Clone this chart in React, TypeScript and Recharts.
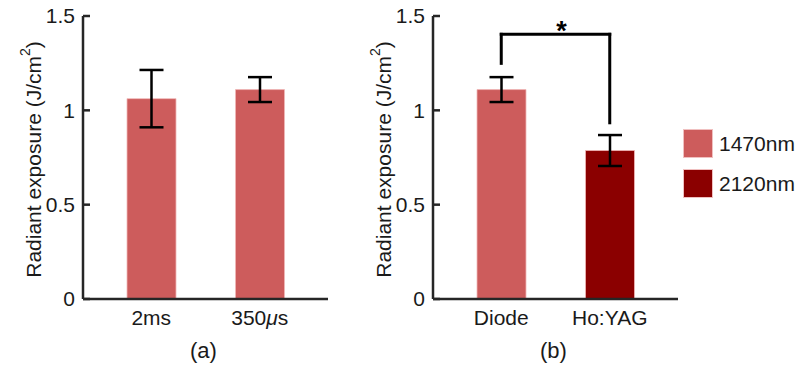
import React from 'react';
import { BarChart, Bar, XAxis, YAxis, ErrorBar, Cell, ReferenceLine, Label } from 'recharts';

// Panel (a)
const panelACategories = ['2ms', '350μs'];
const panelAValues = [1.062, 1.11];
const panelAErrors = [0.152, 0.066];

// Panel (b)
const panelBCategories = ['Diode', 'Ho:YAG'];
const panelBValues = [1.11, 0.787];
const panelBErrors = [0.066, 0.082];

// Significance bracket (panel b)
const bracketTop = 1.403;
const bracketLeftBottom = 1.249;
const bracketRightBottom = 0.934;
const significanceMark = '*';

const yTicks = [0, 0.5, 1, 1.5];
const yDomain: [number, number] = [0, 1.5];

const legendNames = ['1470nm', '2120nm'];
const COLOR_1470 = '#CD5C5C';
const COLOR_2120 = '#8B0000';
const panelAColors = [COLOR_1470, COLOR_1470];
const panelBColors = [COLOR_1470, COLOR_2120];
const legendColors = [COLOR_1470, COLOR_2120];

const FONT = '"Liberation Sans", Arial, Helvetica, sans-serif';
const AXIS_COLOR = '#262626';
const TEXT_COLOR = '#1a1a1a';

const build = (cats: string[], vals: number[], errs: number[]) =>
  cats.map((c, i) => ({ name: c, value: vals[i], err: errs[i] }));

const dataA = build(panelACategories, panelAValues, panelAErrors);
const dataB = build(panelBCategories, panelBValues, panelBErrors);

const XTick = (props: any) => {
  const { x, y, payload } = props;
  const v: string = String(payload.value);
  const idx = v.indexOf('μ');
  return (
    <text x={x} y={y} dy="0.71em" textAnchor="middle" fontSize={21} fontFamily={FONT} fill={TEXT_COLOR}>
      {idx >= 0 ? (
        <>
          {v.slice(0, idx)}
          <tspan fontStyle="italic">μ</tspan>
          {v.slice(idx + 1)}
        </>
      ) : (
        v
      )}
    </text>
  );
};

const YTick = (props: any) => {
  const { x, y, payload } = props;
  return (
    <text x={x} y={y} dy="0.355em" textAnchor="end" fontSize={21} fontFamily={FONT} fill={TEXT_COLOR}>
      {String(payload.value)}
    </text>
  );
};

const YLabel = (props: any) => {
  const vb = props.viewBox || { x: 0, y: 0, width: 0, height: 0 };
  const cx = vb.x + 33;
  const cy = vb.y + vb.height / 2 + 2;
  return (
    <text
      x={cx}
      y={cy}
      transform={`rotate(-90 ${cx} ${cy})`}
      textAnchor="middle"
      dominantBaseline="central"
      fontSize={21}
      fontFamily={FONT}
      fill={TEXT_COLOR}
    >
      Radiant exposure (J/cm<tspan dy={-8} fontSize={14}>2</tspan>
      <tspan dy={8}>)</tspan>
    </text>
  );
};

const Caption = (props: any) => {
  const vb = props.viewBox || { x: 0, y: 0, width: 0, height: 0 };
  return (
    <text x={vb.x + vb.width / 2 - 2} y={vb.y + vb.height - 10} textAnchor="middle" fontSize={22} fontFamily={FONT} fill={TEXT_COLOR}>
      {props.value}
    </text>
  );
};

const StarLabel = (props: any) => {
  const vb = props.viewBox || { x: 0, y: 0, width: 0, height: 0 };
  const cx = vb.x + vb.width / 2 + 6;
  return (
    <text x={cx} y={vb.y + 5.5} textAnchor="middle" fontSize={27} fontWeight="bold" fontFamily={FONT} fill="#000">
      {significanceMark}
    </text>
  );
};

const Panel = ({ data, colors, caption, bracket }: { data: any[]; colors: string[]; caption: string; bracket?: boolean }) => (
  <BarChart width={340} height={368} data={data} margin={{ top: 16, right: 12, bottom: 0, left: 0 }}>
    <XAxis
      dataKey="name"
      padding={{ left: 14, right: 14 }}
      axisLine={{ stroke: AXIS_COLOR, strokeWidth: 2.5 }}
      tickLine={false}
      tickSize={0}
      tickMargin={11}
      height={69}
      tick={<XTick />}
      interval={0}
    >
      <Label value={caption} content={<Caption />} />
    </XAxis>
    <YAxis
      domain={yDomain}
      ticks={yTicks}
      width={83}
      axisLine={{ stroke: AXIS_COLOR, strokeWidth: 2.5 }}
      tickLine={{ stroke: AXIS_COLOR, strokeWidth: 2.5 }}
      tickSize={-7}
      tickMargin={15}
      tick={<YTick />}
      allowDataOverflow
    >
      <Label content={<YLabel />} />
    </YAxis>
    <Bar dataKey="value" barSize={49} isAnimationActive={false}>
      {data.map((d, i) => (
        <Cell key={d.name} fill={colors[i]} stroke="#f0b8b8" strokeWidth={0.8} />
      ))}
      <ErrorBar dataKey="err" width={12} stroke="#000" strokeWidth={2.5} isAnimationActive={false} />
    </Bar>
    {bracket && (
      <ReferenceLine
        segment={[
          { x: data[0].name, y: bracketLeftBottom },
          { x: data[0].name, y: bracketTop },
        ]}
        stroke="#000"
        strokeWidth={3}
        strokeLinecap="square"
        ifOverflow="visible"
      />
    )}
    {bracket && (
      <ReferenceLine
        segment={[
          { x: data[1].name, y: bracketRightBottom },
          { x: data[1].name, y: bracketTop },
        ]}
        stroke="#000"
        strokeWidth={3}
        strokeLinecap="square"
        ifOverflow="visible"
      />
    )}
    {bracket && (
      <ReferenceLine
        segment={[
          { x: data[0].name, y: bracketTop },
          { x: data[1].name, y: bracketTop },
        ]}
        stroke="#000"
        strokeWidth={3}
        strokeLinecap="square"
        ifOverflow="visible"
        label={<StarLabel />}
      />
    )}
  </BarChart>
);

export default function App() {
  return (
    <div style={{ position: 'absolute', left: 0, top: 0, width: 797, height: 368, background: '#fff', overflow: 'hidden' }}>
      <div style={{ position: 'absolute', left: 0, top: 0 }}>
        <Panel data={dataA} colors={panelAColors} caption="(a)" />
      </div>
      <div style={{ position: 'absolute', left: 350, top: 0 }}>
        <Panel data={dataB} colors={panelBColors} caption="(b)" bracket />
      </div>
      <div style={{ position: 'absolute', left: 683, top: 129, width: 114, fontFamily: FONT }}>
        {legendNames.map((n, i) => (
          <div key={n} style={{ display: 'flex', alignItems: 'center', height: 29, marginBottom: i === 0 ? 11 : 0 }}>
            <div style={{ flex: '0 0 30px', width: 30, height: 29, background: legendColors[i], boxSizing: 'border-box', border: '1px solid #f0c0c0' }} />
            <span style={{ marginLeft: 6, fontSize: 21, color: TEXT_COLOR, whiteSpace: 'nowrap' }}>{n}</span>
          </div>
        ))}
      </div>
    </div>
  );
}
